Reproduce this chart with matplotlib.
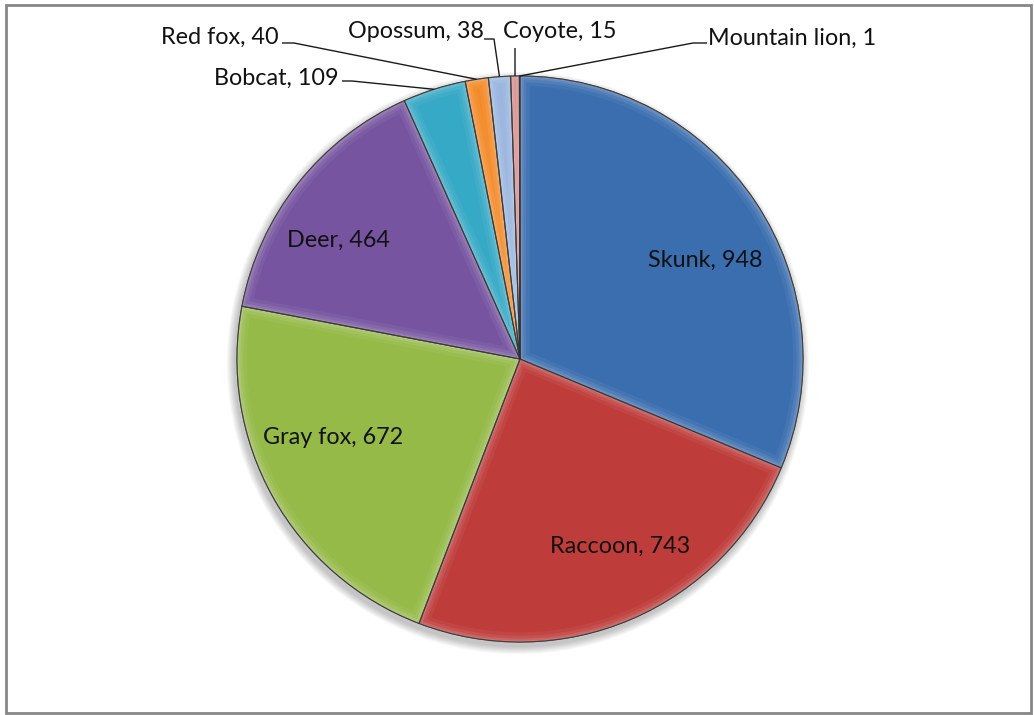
import matplotlib
matplotlib.use("Agg")
import matplotlib.pyplot as plt
import matplotlib.patches as mpatches
import numpy as np

# Road-kill counts by species
species = ["Skunk", "Raccoon", "Gray fox", "Deer", "Bobcat",
           "Red fox", "Opossum", "Coyote", "Mountain lion"]
counts = [948, 743, 672, 464, 109, 40, 38, 15, 1]
colors = ["#3B6EAF", "#BE3C39", "#95BA48", "#7654A0", "#35A9C6",
          "#F38A26", "#98B4DF", "#D8898A", "#B9CF8A"]

W, H = 1034, 715
fig = plt.figure(figsize=(W / 100, H / 100), dpi=100)
ax = fig.add_axes([0, 0, 1, 1])
plt.rcParams["font.family"] = ["Lato", "DejaVu Sans"]

cx, cy, R = 520, 715 - 359, 283

# soft drop shadow under the pie
for k in range(10):
    ax.add_patch(mpatches.Circle((cx - 2, cy - 4), R + 1 + k * 0.8,
                                 color="#000000", alpha=0.025, lw=0, zorder=0))

wedges, _ = ax.pie(counts, colors=colors, startangle=90, counterclock=False,
                   center=(cx, cy), radius=R,
                   wedgeprops=dict(edgecolor="#3a3a3a", linewidth=0.8))

# bevel-like highlight inside each slice border
for w in wedges:
    for lw, a in [(14, 0.05), (9, 0.07), (5, 0.09), (2.5, 0.11)]:
        hl = mpatches.Wedge(w.center, w.r, w.theta1, w.theta2, fill=False,
                            edgecolor="white", linewidth=lw, alpha=a, zorder=3)
        ax.add_patch(hl)
        hl.set_clip_path(w)
    rim = mpatches.Wedge(w.center, w.r, w.theta1, w.theta2, fill=False,
                         edgecolor="#303030", linewidth=0.8, alpha=0.6, zorder=4)
    ax.add_patch(rim)

ax.set_xlim(0, W)
ax.set_ylim(0, H)
ax.set_aspect("equal")
ax.axis("off")

fs = 16.8
# labels inside the large slices
inner_pos = {"Skunk": (705, 260), "Raccoon": (620, 546),
             "Gray fox": (333, 437), "Deer": (338, 240)}
for name, val in zip(species, counts):
    if name in inner_pos:
        px, py = inner_pos[name]
        ax.text(px, H - py, f"{name}, {val}", ha="center", va="center",
                fontsize=fs, color="#111111", zorder=6)

# outside labels with leader lines to the slice edge
total = sum(counts)
cum = np.cumsum([0] + counts)
mid_angle = {}
for i, name in enumerate(species):
    frac = (cum[i] + counts[i] / 2) / total
    mid_angle[name] = np.deg2rad(90 - 360 * frac)

outer = {
    # name: (text x, text y, ha, leader start, elbow)
    "Bobcat": (339, 78, "right", (342, 81), (352, 81)),
    "Red fox": (279, 37, "right", (282, 43), (294, 43)),
    "Opossum": (484, 32, "right", (484, 39), (494, 39)),
    "Coyote": (503, 32, "left", (515, 48), (515, 48)),
    "Mountain lion": (708, 38, "left", (707, 43), (693, 43)),
}
for name, val in zip(species, counts):
    if name not in outer:
        continue
    tx, ty, ha, p0, p1 = outer[name]
    ax.text(tx, H - ty, f"{name}, {val}", ha=ha, va="center",
            fontsize=fs, color="#111111", zorder=6)
    a = mid_angle[name]
    ex, ey = cx + R * np.cos(a), cy + R * np.sin(a)
    ax.plot([p0[0], p1[0], ex], [H - p0[1], H - p1[1], ey],
            color="#1a1a1a", lw=1.0, zorder=5, solid_capstyle="butt")

# chart frame
ax.add_patch(mpatches.Rectangle((6, H - 713), 1025, 708, fill=False,
                                edgecolor="#868686", lw=2, zorder=7))

fig.savefig("out.png", dpi=100)
